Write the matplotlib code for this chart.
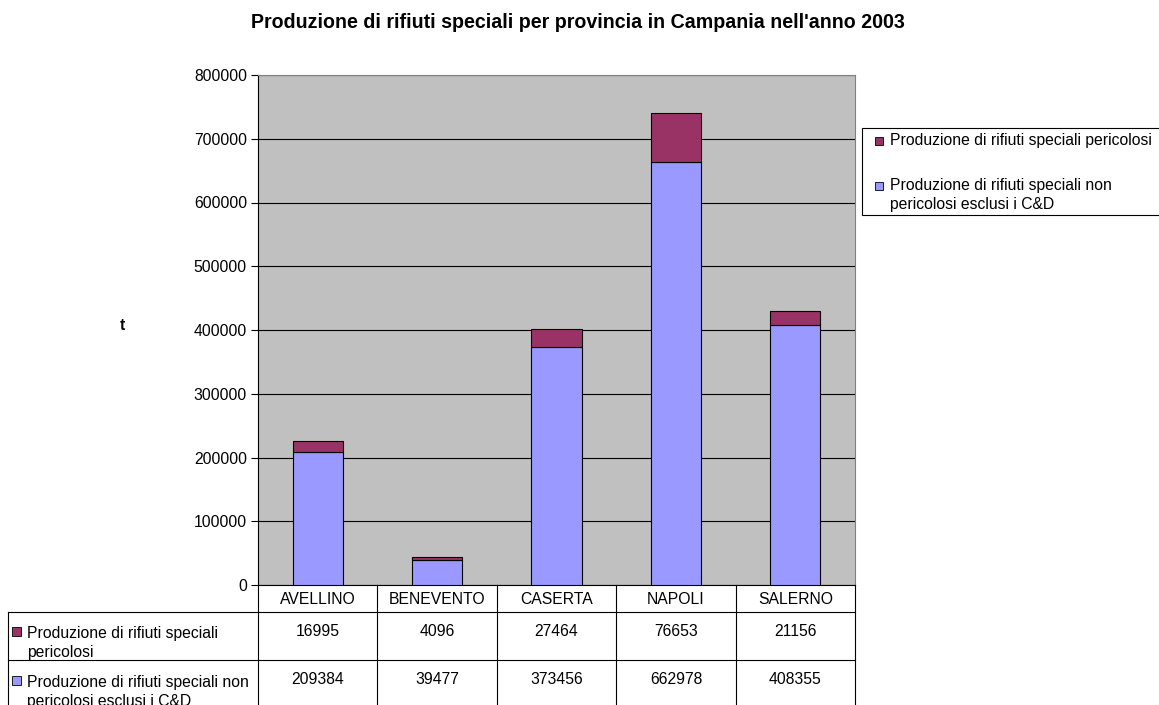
import matplotlib.pyplot as plt
from matplotlib.patches import Rectangle
import matplotlib.transforms as mtransforms
import numpy as np

plt.rcParams['font.family'] = ['Liberation Sans', 'DejaVu Sans']

# data
province = ["AVELLINO", "BENEVENTO", "CASERTA", "NAPOLI", "SALERNO"]
pericolosi = [16995, 4096, 27464, 76653, 21156]
non_pericolosi = [209384, 39477, 373456, 662978, 408355]
yticks = [0, 100000, 200000, 300000, 400000, 500000, 600000, 700000, 800000]

col_np = "#9999FF"
col_p = "#993366"
fs = 11.3

W, H = 1159, 705
fig = plt.figure(figsize=(W / 100, H / 100), dpi=100)
ax = fig.add_axes([258 / W, 1 - 585 / H, (855 - 258) / W, (585 - 75) / H])
ax.set_facecolor("#C0C0C0")

x = np.arange(len(province))
ax.bar(x, non_pericolosi, width=0.42, color=col_np, edgecolor="black", linewidth=0.8, zorder=3)
ax.bar(x, pericolosi, width=0.42, bottom=non_pericolosi, color=col_p, edgecolor="black",
       linewidth=0.8, zorder=3)

ax.set_xlim(-0.5, len(province) - 0.5)
ax.set_ylim(0, 800000)
ax.set_yticks(yticks)
ax.set_yticklabels([str(v) for v in yticks], fontsize=fs)
ax.set_xticks([])
ax.yaxis.grid(True, color="black", linewidth=0.8, zorder=1)
ax.set_axisbelow(True)
for s in ["top", "right"]:
    ax.spines[s].set_color("#808080")
ax.spines["left"].set_color("black")
ax.spines["bottom"].set_color("black")
ax.tick_params(axis="y", length=5, width=0.8, pad=3)

fig.text(578 / W, 1 - 22 / H, "Produzione di rifiuti speciali per provincia in Campania nell'anno 2003",
         ha="center", va="center", fontsize=14.1, fontweight="bold")
fig.text(122 / W, 1 - 325 / H, "t", ha="center", va="center", fontsize=fs, fontweight="bold")

# data table under the axes
tr = mtransforms.blended_transform_factory(ax.transData, ax.transAxes)
def yf(py):
    return (585 - py) / 510

left_x = -0.5 - (258 - 8) / 119.4
bottom_y = yf(720)
lk = dict(color="black", linewidth=0.8, transform=tr, clip_on=False)
for xv in np.arange(-0.5, len(province), 1.0):
    ax.plot([xv, xv], [0, bottom_y], **lk)
ax.plot([left_x, left_x], [yf(612), bottom_y], **lk)
for py in [612, 660]:
    ax.plot([left_x, len(province) - 0.5], [yf(py), yf(py)], **lk)

for i, name in enumerate(province):
    ax.text(i, yf(599), name, transform=tr, ha="center", va="center", fontsize=fs)
    ax.text(i, yf(631), str(pericolosi[i]), transform=tr, ha="center", va="center", fontsize=fs)
    ax.text(i, yf(680), str(non_pericolosi[i]), transform=tr, ha="center", va="center", fontsize=fs)

row_text = ["Produzione di rifiuti speciali\npericolosi",
            "Produzione di rifiuti speciali non\npericolosi esclusi i C&D"]
for py, txt, c in [(632, row_text[0], col_p), (681, row_text[1], col_np)]:
    fig.patches.append(Rectangle((12 / W, 1 - (py + 4) / H), 9 / W, 9 / H, transform=fig.transFigure,
                                 facecolor=c, edgecolor="black", linewidth=0.6))
    fig.text(27 / W, 1 - (py - 6) / H, txt, ha="left", va="top", fontsize=fs, linespacing=1.3)

# legend box on the right
fig.patches.append(Rectangle((862 / W, 1 - 215 / H), 310 / W, 87 / H, transform=fig.transFigure,
                             facecolor="white", edgecolor="black", linewidth=0.8))
leg_labels = ["Produzione di rifiuti speciali pericolosi",
              "Produzione di rifiuti speciali non\npericolosi esclusi i C&D"]
for py, txt, c in [(141, leg_labels[0], col_p), (186, leg_labels[1], col_np)]:
    fig.patches.append(Rectangle((875 / W, 1 - (py + 4) / H), 8 / W, 8 / H, transform=fig.transFigure,
                                 facecolor=c, edgecolor="black", linewidth=0.6))
    fig.text(890 / W, 1 - (py - 8) / H, txt, ha="left", va="top", fontsize=fs, linespacing=1.3)

plt.savefig("out.png", dpi=100)
